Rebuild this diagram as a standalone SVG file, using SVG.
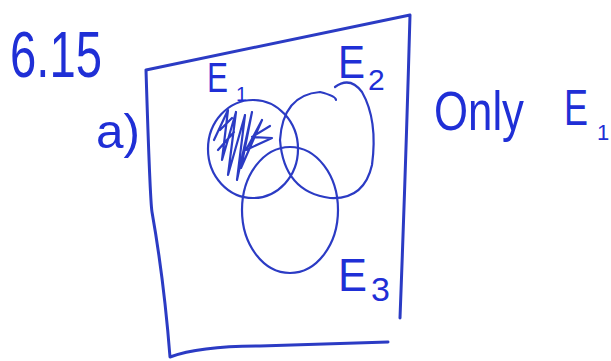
<svg xmlns="http://www.w3.org/2000/svg" width="611" height="361" viewBox="0 0 611 361">
<style>
.ink{fill:none;stroke:#2b3bc4;stroke-width:3;stroke-linecap:round;stroke-linejoin:round}
.thin{fill:none;stroke:#2b3bc4;stroke-width:2.2;stroke-linecap:round;stroke-linejoin:round}
.t{fill:#1f2fd6;font-family:"Liberation Sans","DejaVu Sans",sans-serif}
</style>
<rect width="611" height="361" fill="#ffffff"/>
<g id="title"><text class="t" x="10" y="77" font-size="64" textLength="92" lengthAdjust="spacingAndGlyphs">6.15</text></g>
<g id="part"><text class="t" x="96" y="148" font-size="48" textLength="44" lengthAdjust="spacingAndGlyphs">a)</text></g>
<g id="note"><text class="t" x="564" y="125" font-size="50" textLength="24" lengthAdjust="spacingAndGlyphs">E</text>
<text class="t" x="434" y="130" font-size="56" textLength="90" lengthAdjust="spacingAndGlyphs">Only</text>
<text class="t" x="597" y="140" font-size="22">1</text></g>
<g id="universe"><path class="ink" d="M146,70 L410,15 Q406,160 400,318 M146,70 Q150,200 152,212 Q164,280 170,357 Q200,346 260,346 L388,342"/></g>
<g id="E1"><ellipse class="thin" cx="253" cy="149" rx="45" ry="49"/>
<path class="thin" d="M214,140 L228,110 L222,160 L236,112 L228,175 L245,115 L237,180 L252,112 L241,168 L262,120 L246,150 L272,138 L252,137 L270,126 M220,130 L232,118 M218,150 L234,132"/>
<text class="t" x="207" y="92" font-size="42" textLength="21" lengthAdjust="spacingAndGlyphs">E</text>
<text class="t" x="236" y="101" font-size="20">1</text></g>
<g id="E2"><path class="thin" d="M335,87 Q350,76 362,92 Q378,120 372,165 Q364,200 330,198 Q284,192 280,140 Q283,95 320,92 Q336,96 336,100"/>
<text class="t" x="338" y="78" font-size="46" textLength="27" lengthAdjust="spacingAndGlyphs">E</text>
<text class="t" x="368" y="90" font-size="30">2</text></g>
<g id="E3"><ellipse class="thin" cx="290" cy="210" rx="48" ry="63"/>
<text class="t" x="338" y="291" font-size="46" textLength="29" lengthAdjust="spacingAndGlyphs">E</text>
<text class="t" x="371" y="301" font-size="34">3</text></g>
</svg>
